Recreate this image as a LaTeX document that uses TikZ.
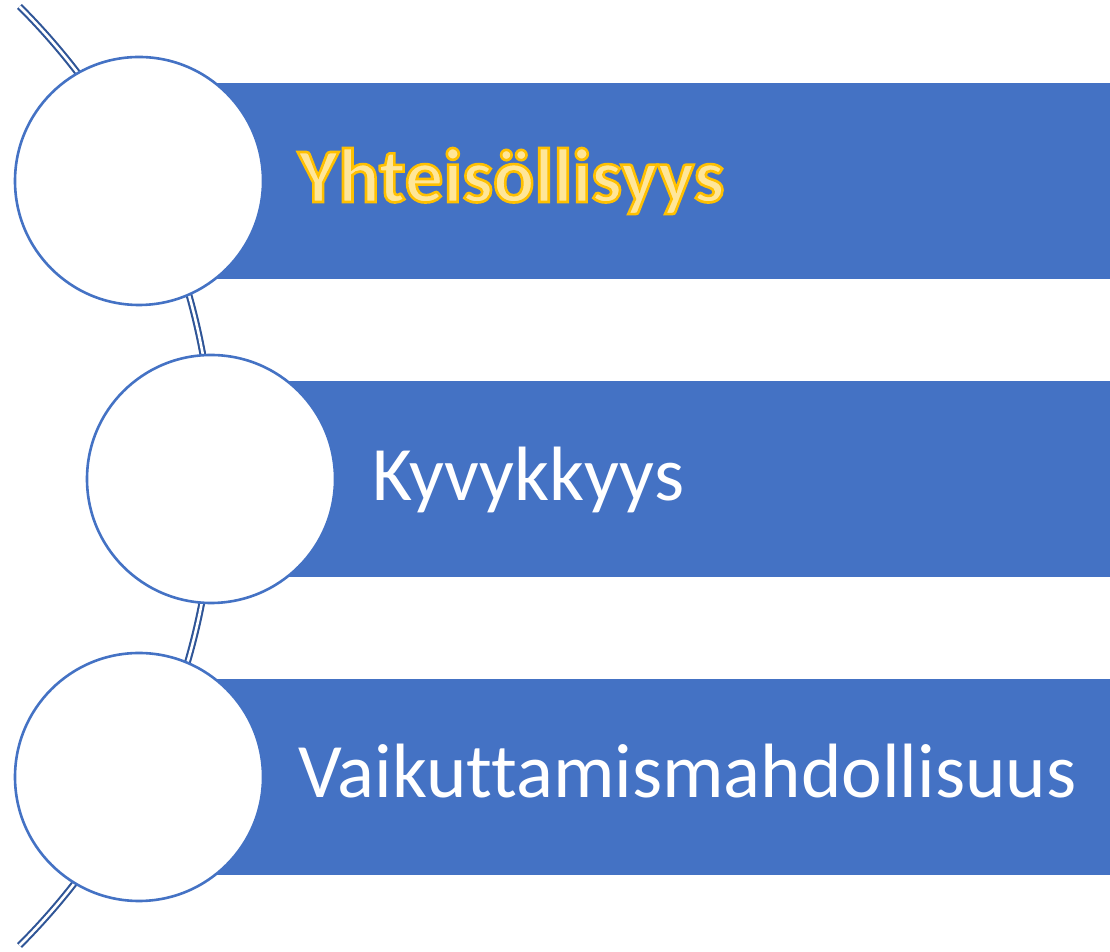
\documentclass[tikz,border=0pt]{standalone}
\usepackage{fontspec}
\setmainfont[Ligatures=NoCommon]{Carlito}

\definecolor{itemblue}{HTML}{4472C4}
\definecolor{arcblue}{HTML}{2F5597}
\definecolor{glowfill}{HTML}{FFE699}

% outlined text: fill and stroke (text render mode 2)
\newcommand{\glowtext}[1]{\special{pdf:literal direct 1 0.753 0 RG 2.6 w 2 Tr}#1\special{pdf:literal direct 0 Tr}}

\tikzset{
  itembar/.style={fill=itemblue, draw=none},
  itemdisc/.style={circle, draw=itemblue, line width=2.6pt, fill=white, minimum size=248pt, inner sep=0pt},
  itemtext/.style={anchor=base west, inner sep=0pt, text=white, font=\fontsize{77}{92}\selectfont},
  spine/.style={draw=arcblue, double=white, line width=2.1pt, double distance=2.6pt}
}

\begin{document}
\begin{tikzpicture}[x=1pt, y=1pt]
    \useasboundingbox (0,0) rectangle (1110,952);

    % Bars behind the discs
    \fill[itembar] (139,673) rectangle (1110,869);
    \fill[itembar] (211,375) rectangle (1110,571);
    \fill[itembar] (139,77) rectangle (1110,273);

    % Spine arc through the discs
    \draw[spine] (-450,476) ++(45:664) arc (45:-45:664);

    % Discs
    \node[itemdisc] (d1) at (139,771) {};
    \node[itemdisc] (d2) at (211,473) {};
    \node[itemdisc] (d3) at (139,175) {};

    % Labels
    \node[itemtext, font=\fontsize{77}{92}\selectfont\bfseries, text=glowfill] (t1) at (298,750) {\glowtext{Yhteisöllisyys}};
    \node[itemtext] (t2) at (372,451) {Kyvykkyys};
    \node[itemtext] (t3) at (298,154) {Vaikuttamismahdollisuus};
\end{tikzpicture}
\end{document}
